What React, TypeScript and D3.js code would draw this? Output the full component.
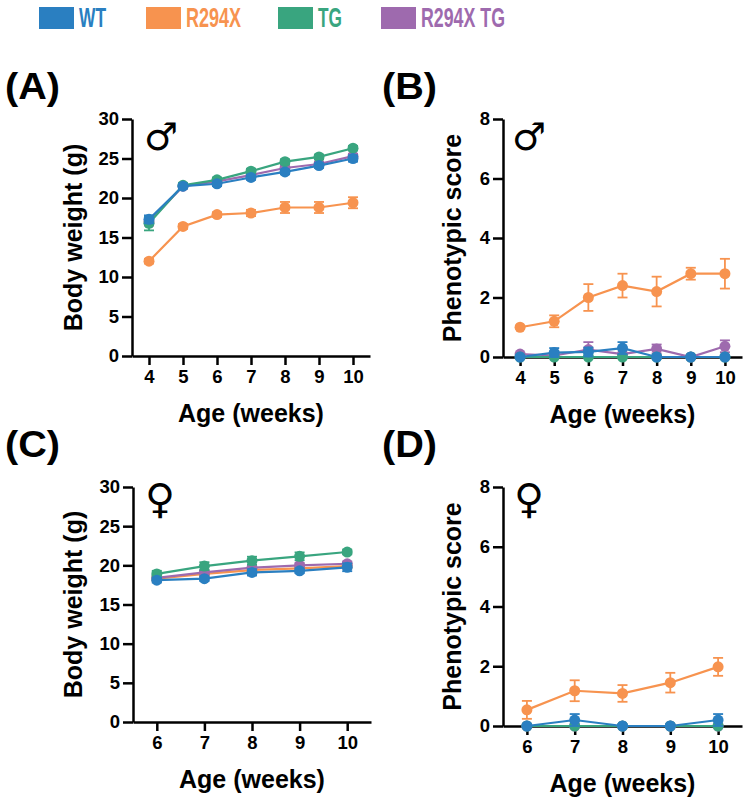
import React, { useRef, useEffect } from 'react';
import * as d3 from 'd3';

// groups, in legend order
const groups = ['WT', 'R294X', 'TG', 'R294X TG'];
const colors = ['#2a7fc1', '#f7934f', '#39a57f', '#9e6aae'];
const drawOrder = [1, 3, 2, 0];

const weeksMale = [4, 5, 6, 7, 8, 9, 10];
const weeksFemale = [6, 7, 8, 9, 10];

const weightTicks = [0, 5, 10, 15, 20, 25, 30];
const scoreTicks = [0, 2, 4, 6, 8];

// (A) male body weight, g  (WT, R294X, TG, R294X TG)
const maleWeightWT = [17.3, 21.5, 21.8, 22.6, 23.3, 24.1, 25.0];
const maleWeightR294X = [12.0, 16.4, 17.9, 18.1, 18.8, 18.8, 19.4];
const maleWeightTG = [16.8, 21.6, 22.3, 23.4, 24.6, 25.2, 26.3];
const maleWeightR294XTG = [17.0, 21.5, 22.1, 22.9, 23.8, 24.3, 25.3];
const maleWeightWTErr = [0.5, 0.3, 0.3, 0.3, 0.3, 0.3, 0.4];
const maleWeightR294XErr = [0.3, 0.3, 0.3, 0.4, 0.7, 0.7, 0.7];
const maleWeightTGErr = [0.9, 0.3, 0.3, 0.3, 0.3, 0.3, 0.3];
const maleWeightR294XTGErr = [0.5, 0.3, 0.3, 0.3, 0.3, 0.3, 0.3];

// (B) male phenotypic score
const maleScoreWT = [0, 0.15, 0.17, 0.3, 0, 0, 0];
const maleScoreR294X = [1.0, 1.2, 2.0, 2.4, 2.2, 2.8, 2.8];
const maleScoreTG = [0, 0, 0, 0, 0, 0, 0];
const maleScoreR294XTG = [0.1, 0.05, 0.25, 0.1, 0.27, 0, 0.36];
const maleScoreWTErr = [0, 0.15, 0.15, 0.2, 0, 0, 0];
const maleScoreR294XErr = [0.05, 0.2, 0.45, 0.4, 0.5, 0.2, 0.5];
const maleScoreTGErr = [0, 0, 0, 0, 0, 0, 0];
const maleScoreR294XTGErr = [0, 0, 0.25, 0, 0.15, 0, 0.2];

// (C) female body weight, g
const femaleWeightWT = [18.1, 18.3, 19.1, 19.3, 19.75];
const femaleWeightR294X = [18.3, 18.9, 19.4, 19.6, 19.9];
const femaleWeightTG = [18.9, 19.9, 20.6, 21.15, 21.7];
const femaleWeightR294XTG = [18.4, 19.1, 19.7, 20.0, 20.2];
const femaleWeightWTErr = [0.3, 0.3, 0.4, 0.3, 0.5];
const femaleWeightR294XErr = [0.3, 0.3, 0.3, 0.3, 0.3];
const femaleWeightTGErr = [0.4, 0.5, 0.5, 0.5, 0.3];
const femaleWeightR294XTGErr = [0.3, 0.3, 0.3, 0.3, 0.3];

// (D) female phenotypic score
const femaleScoreWT = [0, 0.2, 0, 0, 0.2];
const femaleScoreR294X = [0.54, 1.18, 1.09, 1.45, 1.98];
const femaleScoreTG = [0, 0, 0, 0, 0];
const femaleScoreR294XTG = [0, 0, 0, 0, 0];
const femaleScoreWTErr = [0, 0.2, 0, 0, 0.2];
const femaleScoreR294XErr = [0.3, 0.35, 0.28, 0.33, 0.3];
const femaleScoreTGErr = [0, 0, 0, 0, 0];
const femaleScoreR294XTGErr = [0, 0, 0, 0, 0];

const font = "Arial, 'Liberation Sans', sans-serif";

const panels = [
  {
    label: '(A)', labelX: 5, labelY: 99, sym: '\u2642', symX: 144, symY: 150, symSize: 38,
    weeks: weeksMale, xDomain: [3.5, 10.5], left: 132, right: 370, top: 119, bottom: 356,
    yMax: 30, yTicks: weightTicks, yTitle: 'Body weight (g)', yTitleX: 82,
    means: [maleWeightWT, maleWeightR294X, maleWeightTG, maleWeightR294XTG],
    errs: [maleWeightWTErr, maleWeightR294XErr, maleWeightTGErr, maleWeightR294XTGErr],
  },
  {
    label: '(B)', labelX: 382, labelY: 99, sym: '\u2642', symX: 512, symY: 150, symSize: 38,
    weeks: weeksMale, xDomain: [3.5, 10.5], left: 503, right: 742, top: 119, bottom: 357,
    yMax: 8, yTicks: scoreTicks, yTitle: 'Phenotypic score', yTitleX: 461,
    means: [maleScoreWT, maleScoreR294X, maleScoreTG, maleScoreR294XTG],
    errs: [maleScoreWTErr, maleScoreR294XErr, maleScoreTGErr, maleScoreR294XTGErr],
  },
  {
    label: '(C)', labelX: 5, labelY: 457, sym: '\u2640', symX: 145, symY: 513, symSize: 41,
    weeks: weeksFemale, xDomain: [5.5, 10.5], left: 133, right: 371, top: 487, bottom: 722,
    yMax: 30, yTicks: weightTicks, yTitle: 'Body weight (g)', yTitleX: 82,
    means: [femaleWeightWT, femaleWeightR294X, femaleWeightTG, femaleWeightR294XTG],
    errs: [femaleWeightWTErr, femaleWeightR294XErr, femaleWeightTGErr, femaleWeightR294XTGErr],
  },
  {
    label: '(D)', labelX: 382, labelY: 457, sym: '\u2640', symX: 514, symY: 513, symSize: 41,
    weeks: weeksFemale, xDomain: [5.5, 10.5], left: 503, right: 742, top: 487, bottom: 726,
    yMax: 8, yTicks: scoreTicks, yTitle: 'Phenotypic score', yTitleX: 461,
    means: [femaleScoreWT, femaleScoreR294X, femaleScoreTG, femaleScoreR294XTG],
    errs: [femaleScoreWTErr, femaleScoreR294XErr, femaleScoreTGErr, femaleScoreR294XTGErr],
  },
];

function styleAxis(g) {
  g.attr('font-family', font).attr('font-size', 18.5).attr('font-weight', 'bold');
  g.select('.domain').attr('stroke', '#000').attr('stroke-width', 2.5);
  g.selectAll('.tick line').attr('stroke', '#000').attr('stroke-width', 2.5);
  g.selectAll('.tick text').attr('fill', '#000');
}

function Panel({ p }) {
  const gx = useRef(null);
  const gy = useRef(null);

  const x = d3.scaleLinear().domain(p.xDomain).range([p.left, p.right]);
  const y = d3.scaleLinear().domain([0, p.yMax]).range([p.bottom, p.top]);

  useEffect(() => {
    const xAxis = d3.axisBottom(x).tickValues(p.weeks).tickFormat(d3.format('d'))
      .tickSize(9).tickSizeOuter(0).tickPadding(5);
    d3.select(gx.current).call(xAxis).call(styleAxis);
    const yAxis = d3.axisLeft(y).tickValues(p.yTicks).tickFormat(d3.format('d'))
      .tickSize(10).tickSizeOuter(0).tickPadding(3);
    d3.select(gy.current).call(yAxis).call(styleAxis);
  }, []);

  const line = d3.line<number>()
    .x((d, i) => x(p.weeks[i]))
    .y((d) => y(d));

  const midX = (p.left + p.right) / 2;
  const midY = (p.top + p.bottom) / 2;

  return (
    <g>
      <text x={p.labelX} y={p.labelY} fontFamily={font} fontWeight="bold" fontSize={36}
        textLength={55} lengthAdjust="spacingAndGlyphs">{p.label}</text>
      <text x={p.symX} y={p.symY} fontFamily="'DejaVu Sans'" fontSize={p.symSize}>{p.sym}</text>
      <g ref={gx} transform={`translate(0,${p.bottom})`} />
      <g ref={gy} transform={`translate(${p.left},0)`} />
      {drawOrder.map((gi) => {
        const m = p.means[gi];
        const e = p.errs[gi];
        const c = colors[gi];
        return (
          <g key={gi}>
            {m.map((v, i) => e[i] > 0 ? (
              <g key={i} stroke={c} strokeWidth={1.8}>
                <line x1={x(p.weeks[i])} x2={x(p.weeks[i])} y1={y(v - e[i])} y2={y(v + e[i])} />
                <line x1={x(p.weeks[i]) - 5} x2={x(p.weeks[i]) + 5} y1={y(v + e[i])} y2={y(v + e[i])} />
                <line x1={x(p.weeks[i]) - 5} x2={x(p.weeks[i]) + 5} y1={y(v - e[i])} y2={y(v - e[i])} />
              </g>
            ) : null)}
            <path d={line(m)} fill="none" stroke={c} strokeWidth={2.2} />
            {m.map((v, i) => (
              <circle key={i} cx={x(p.weeks[i])} cy={y(v)} r={5.5} fill={c} />
            ))}
          </g>
        );
      })}
      <text transform={`translate(${p.yTitleX},${midY}) rotate(-90)`} textAnchor="middle"
        fontFamily={font} fontWeight="bold" fontSize={25}>{p.yTitle}</text>
      <text x={midX} y={p.bottom + 66} textAnchor="middle"
        fontFamily={font} fontWeight="bold" fontSize={25}>Age (weeks)</text>
    </g>
  );
}

const legendX = [39, 146, 278, 381];
const legendW = [27, 55, 24, 84];

export default function App() {
  return (
    <svg width={748} height={802} style={{ position: 'absolute', left: 0, top: 0, background: '#fff' }}>
      {groups.map((g, i) => (
        <g key={g}>
          <rect x={legendX[i]} y={7} width={35} height={22} fill={colors[i]} />
          <text x={legendX[i] + 40} y={27} fill={colors[i]} fontFamily={font} fontWeight="bold"
            fontSize={28} textLength={legendW[i]} lengthAdjust="spacingAndGlyphs">{g}</text>
        </g>
      ))}
      {panels.map((p) => <Panel key={p.label} p={p} />)}
    </svg>
  );
}
